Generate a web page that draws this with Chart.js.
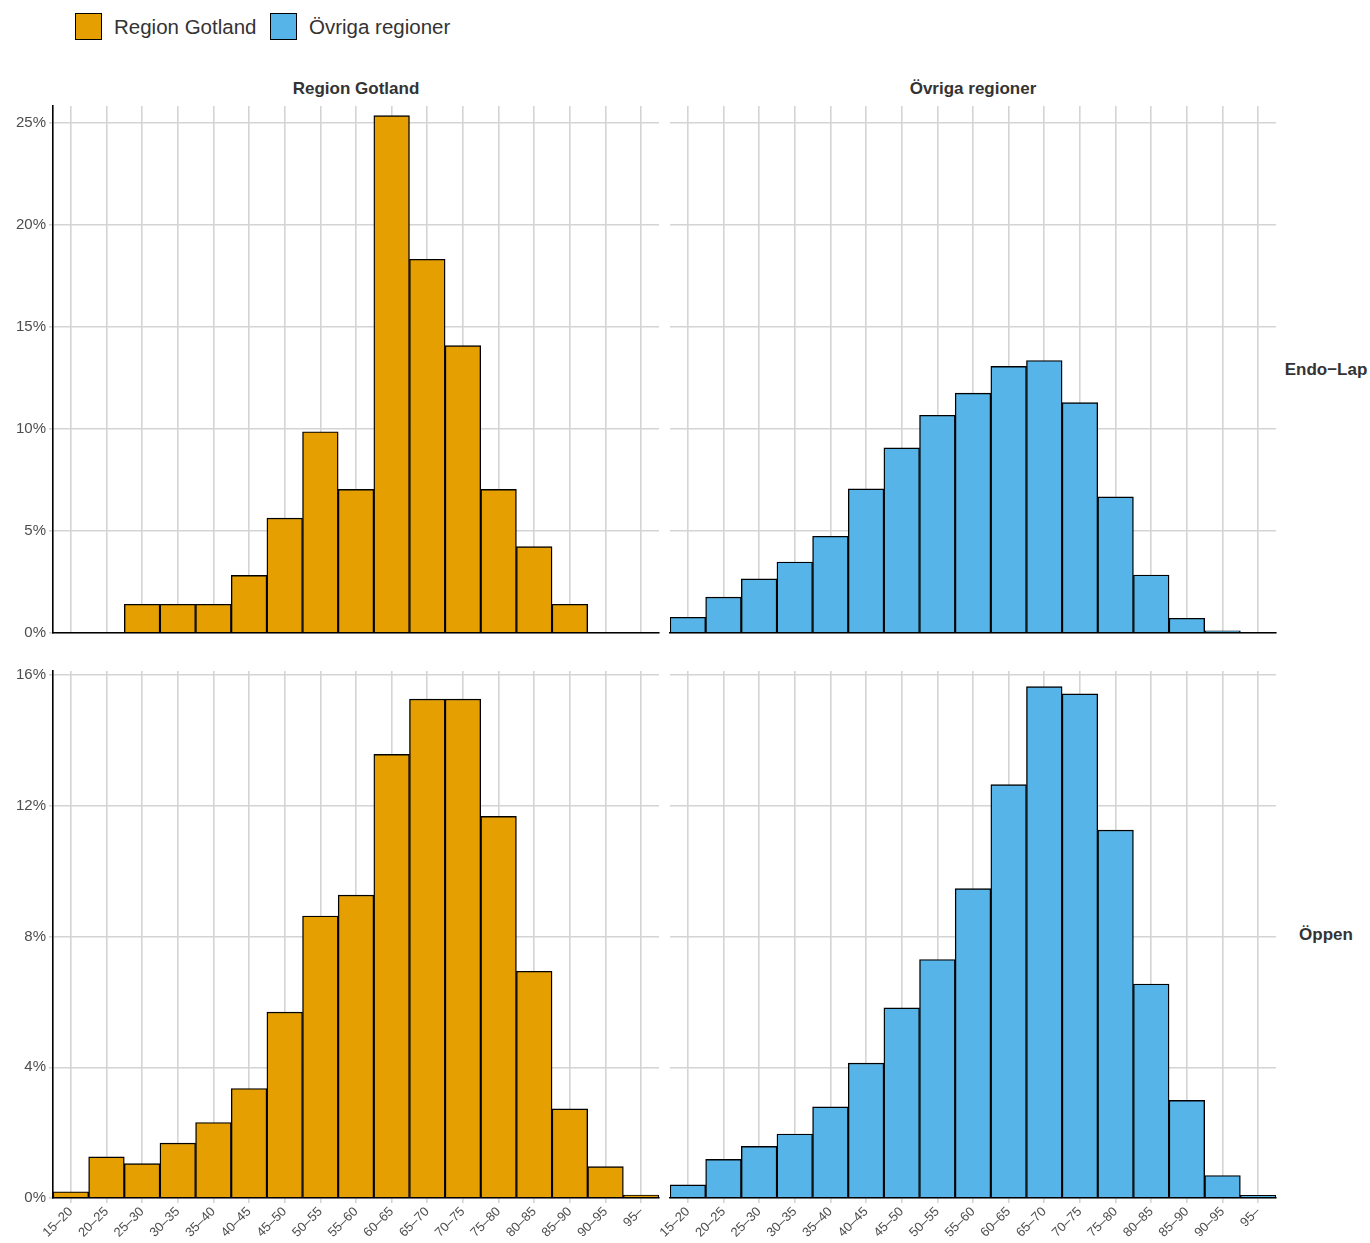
<!DOCTYPE html>
<html>
<head>
<meta charset="utf-8">
<script src="https://cdn.jsdelivr.net/npm/chart.js@4.4.1/dist/chart.umd.min.js"></script>
<style>
    body { margin: 0; background: #fff; width: 1370px; height: 1243px; position: relative; overflow: hidden; font-family: "Liberation Sans", Arial, sans-serif; }
    .abs { position: absolute; }
    .legend-box { position: absolute; width: 25px; height: 25px; border: 1.5px solid #000; top: 13px; }
    .legend-text { position: absolute; top: 14px; font-size: 20.5px; color: #333; line-height: 26px; }
    .strip { position: absolute; font-size: 17px; font-weight: bold; color: #333; text-align: center; white-space: nowrap; }
</style>
</head>
<body>
<div class="legend-box" style="left:75px;background:#E69F00"></div>
<div class="legend-text" style="left:114px">Region Gotland</div>
<div class="legend-box" style="left:270px;background:#56B4E9"></div>
<div class="legend-text" style="left:309px">Övriga regioner</div>

<div class="strip" style="left:53px;width:606px;top:79px">Region Gotland</div>
<div class="strip" style="left:670px;width:606px;top:79px">Övriga regioner</div>
<div class="strip" style="left:1281px;width:90px;top:360px">Endo−Lap</div>
<div class="strip" style="left:1281px;width:90px;top:925px">Öppen</div>

<canvas id="c_gotland_endo" class="abs"></canvas>
<canvas id="c_ovriga_endo" class="abs"></canvas>
<canvas id="c_gotland_oppen" class="abs"></canvas>
<canvas id="c_ovriga_oppen" class="abs"></canvas>

<script>
// åldersgrupper (x-axel)
const ageGroups = ['15–20', '20–25', '25–30', '30–35', '35–40', '40–45', '45–50', '50–55', '55–60',
    '60–65', '65–70', '70–75', '75–80', '80–85', '85–90', '90–95', '95–'];

// andel patienter (%) per åldersgrupp
const gotlandEndo  = [0, 0, 1.41, 1.41, 1.41, 2.82, 5.63, 9.86, 7.04, 25.35, 18.31, 14.08, 7.04, 4.23, 1.41, 0, 0];
const ovrigaEndo   = [0.77, 1.76, 2.65, 3.48, 4.74, 7.06, 9.07, 10.67, 11.75, 13.06, 13.35, 11.29, 6.67, 2.84, 0.72, 0.11, 0.01];
const gotlandOppen = [0.19, 1.26, 1.05, 1.68, 2.31, 3.35, 5.69, 8.63, 9.27, 13.58, 15.27, 15.27, 11.68, 6.94, 2.73, 0.96, 0.09];
const ovrigaOppen  = [0.40, 1.18, 1.58, 1.96, 2.79, 4.13, 5.82, 7.30, 9.47, 12.65, 15.65, 15.43, 11.26, 6.55, 2.99, 0.69, 0.08];

// y-axelns tickvärden per rad
const endoTicks = [0, 5, 10, 15, 20, 25];
const oppenTicks = [0, 4, 8, 12, 16];
const endoMax = 25.82;
const oppenMax = 16.13;

const GOTLAND_COLOR = '#E69F00';
const OVRIGA_COLOR = '#56B4E9';
const GRID_COLOR = '#d4d4d4';
const TEXT_COLOR = '#4d4d4d';

// skapa en panel i rutnätet
function makePanel(id, values, color, opts) {
    const canvas = document.getElementById(id);
    canvas.style.left = opts.left + 'px';
    canvas.style.top = opts.top + 'px';
    canvas.style.width = opts.width + 'px';
    canvas.style.height = opts.height + 'px';
    canvas.width = opts.width;
    canvas.height = opts.height;

    return new Chart(canvas.getContext('2d'), {
        type: 'bar',
        data: {
            labels: ageGroups,
            datasets: [{
                data: values,
                backgroundColor: color,
                borderColor: '#000',
                borderWidth: 1.4,
                barPercentage: 1,
                categoryPercentage: 1
            }]
        },
        options: {
            responsive: false,
            animation: false,
            layout: { padding: opts.padding },
            plugins: { legend: { display: false }, tooltip: { enabled: false } },
            scales: {
                x: {
                    offset: true,
                    grid: { color: GRID_COLOR, lineWidth: 1.6, offset: false, drawTicks: opts.xLabels, tickLength: 5 },
                    border: { display: true, color: '#000', width: 1.6, z: 1 },
                    ticks: {
                        display: opts.xLabels,
                        color: TEXT_COLOR,
                        font: { family: '"Liberation Sans", Arial, sans-serif', size: 13 },
                        minRotation: 45,
                        maxRotation: 45,
                        autoSkip: false,
                        padding: 1
                    },
                    afterFit: s => { s.height = opts.xHeight; s.paddingLeft = 0; s.paddingRight = 0; }
                },
                y: {
                    min: 0,
                    max: opts.yMax,
                    grid: { color: GRID_COLOR, lineWidth: 1.6, drawTicks: opts.yLabels, tickLength: 4 },
                    border: { display: opts.yLabels, color: '#000', width: 1.6, z: 1 },
                    ticks: {
                        display: opts.yLabels,
                        color: TEXT_COLOR,
                        font: { family: '"Liberation Sans", Arial, sans-serif', size: 15 },
                        padding: 3,
                        callback: v => v + '%'
                    },
                    afterBuildTicks: s => { s.ticks = opts.yTicks.map(v => ({ value: v })); },
                    afterFit: s => { s.width = opts.yWidth; s.paddingTop = 0; s.paddingBottom = 0; }
                }
            }
        }
    });
}

// övre raden: Endo-Lap
makePanel('c_gotland_endo', gotlandEndo, GOTLAND_COLOR, {
    left: 0, top: 98, width: 660, height: 547, padding: { top: 8, right: 1, bottom: 10, left: 0 },
    xLabels: false, xHeight: 2, yLabels: true, yWidth: 53, yMax: endoMax, yTicks: endoTicks
});
makePanel('c_ovriga_endo', ovrigaEndo, OVRIGA_COLOR, {
    left: 640, top: 98, width: 637, height: 547, padding: { top: 8, right: 1, bottom: 10, left: 0 },
    xLabels: false, xHeight: 2, yLabels: false, yWidth: 30, yMax: endoMax, yTicks: endoTicks
});

// nedre raden: Öppen
makePanel('c_gotland_oppen', gotlandOppen, GOTLAND_COLOR, {
    left: 0, top: 663, width: 660, height: 580, padding: { top: 8, right: 1, bottom: 0, left: 0 },
    xLabels: true, xHeight: 45, yLabels: true, yWidth: 53, yMax: oppenMax, yTicks: oppenTicks
});
makePanel('c_ovriga_oppen', ovrigaOppen, OVRIGA_COLOR, {
    left: 640, top: 663, width: 637, height: 580, padding: { top: 8, right: 1, bottom: 0, left: 0 },
    xLabels: true, xHeight: 45, yLabels: false, yWidth: 30, yMax: oppenMax, yTicks: oppenTicks
});
</script>
</body>
</html>
